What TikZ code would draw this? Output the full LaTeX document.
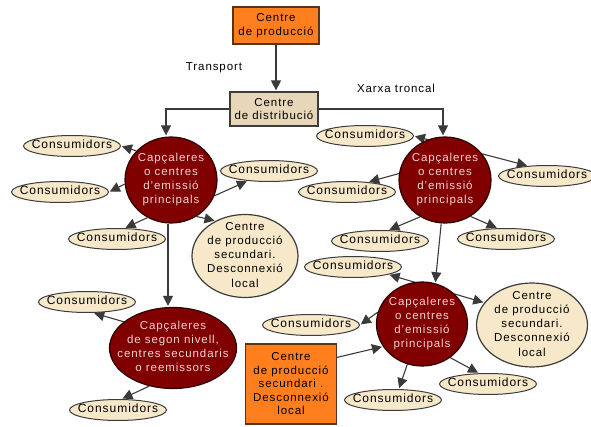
\documentclass[tikz,border=0pt]{standalone}
\usepackage{fontspec}
\setmainfont{Liberation Sans}[LetterSpace=8]
\usetikzlibrary{arrows.meta,shapes.geometric,backgrounds}

\definecolor{prodorange}{HTML}{FF7F1E}
\definecolor{prodedge}{HTML}{5A3418}
\definecolor{distfill}{HTML}{E8D6B8}
\definecolor{creamfill}{HTML}{F6E8C8}
\definecolor{creamedge}{HTML}{3C3C3C}
\definecolor{hubred}{HTML}{800000}
\definecolor{hubedge}{HTML}{2E0000}
\definecolor{hubtext}{HTML}{F2D4D4}
\definecolor{linkgray}{HTML}{3A3A3A}

% centred text that does not stretch the ellipse around it
\newcommand\inside[1]{\raisebox{-0.5em}{\smash{\makebox[0pt]{\begin{tabular}{@{}c@{}}#1\end{tabular}}}}}

\tikzset{
  box/.style={draw=prodedge, line width=1.2pt, rectangle, align=center,
    font=\fontsize{11.5}{13.5}\selectfont, inner sep=1pt},
  prodbox/.style={box, fill=prodorange},
  distbox/.style={box, fill=distfill, draw=creamedge},
  hub/.style={ellipse, fill=hubred, draw=hubedge, line width=1.2pt,
    text=hubtext, font=\fontsize{11.5}{14}\selectfont, inner sep=0pt},
  consumer/.style={ellipse, fill=creamfill, draw=creamedge, line width=1pt,
    minimum width=97pt, minimum height=21pt, inner sep=0pt,
    font=\fontsize{12}{13}\selectfont},
  secondary/.style={ellipse, fill=creamfill, draw=creamedge, line width=1.2pt,
    inner sep=0pt, font=\fontsize{11.5}{14.2}\selectfont},
  link/.style={draw=linkgray, line width=1.1pt,
    -{Triangle[length=10pt,width=10pt]}, shorten >=1pt},
  twoway/.style={link, {Triangle[length=10pt,width=10pt]}-{Triangle[length=10pt,width=10pt]},
    shorten <=1pt},
  tag/.style={font=\fontsize{11.5}{13}\selectfont}
}

\begin{document}
\begin{tikzpicture}[x=1pt, y=-1pt]
\useasboundingbox (0,0) rectangle (591,427);

% production and distribution
\node[prodbox, minimum width=86pt, minimum height=37pt] (prod) at (276,25.5) {Centre\\de producció};
\node[distbox, minimum width=88pt, minimum height=34pt] (dist) at (274,109) {Centre\\de distribució};
\node[tag] (transport) at (214,68) {Transport};
\node[tag] (troncal) at (396,88) {Xarxa troncal};

% main hubs
\node[hub, minimum width=92pt, minimum height=86pt] (hubA) at (171,180) {\inside{Capçaleres\\o centres\\d'emissió\\principals}};
\node[hub, minimum width=92pt, minimum height=86pt] (hubB) at (445,180) {\inside{Capçaleres\\o centres\\d'emissió\\principals}};
\node[hub, minimum width=91pt, minimum height=84pt] (hubC) at (422,324) {\inside{Capçaleres\\o centres\\d'emissió\\principals}};
\node[hub, minimum width=127pt, minimum height=81pt] (level2) at (173,348) {\inside{Capçaleres\\de segon nivell,\\centres secundaris\\o reemissors}};

% secondary production
\node[secondary, minimum width=106pt, minimum height=83pt] (secA) at (245,256) {\inside{Centre\\de producció\\secundari.\\Desconnexió\\local}};
\node[secondary, minimum width=111pt, minimum height=84pt] (secB) at (532,325) {\inside{Centre\\de producció\\secundari.\\Desconnexió\\local}};
\node[prodbox, minimum width=91pt, minimum height=80pt] (prod2) at (291,384) {Centre\\de producció\\secundari .\\Desconnexió\\local};

% consumers
\node[consumer] (k1) at (72,146) {\inside{Consumidors}};
\node[consumer] (k2) at (60,192) {\inside{Consumidors}};
\node[consumer] (k3) at (269,171) {\inside{Consumidors}};
\node[consumer] (k4) at (117,239) {\inside{Consumidors}};
\node[consumer] (k5) at (87,302) {\inside{Consumidors}};
\node[consumer] (k6) at (118,410) {\inside{Consumidors}};
\node[consumer] (k7) at (365,136) {\inside{Consumidors}};
\node[consumer] (k8) at (547,176) {\inside{Consumidors}};
\node[consumer] (k9) at (347,192) {\inside{Consumidors}};
\node[consumer] (k10) at (380,241) {\inside{Consumidors}};
\node[consumer] (k11) at (506,239) {\inside{Consumidors}};
\node[consumer] (k12) at (353,267) {\inside{Consumidors}};
\node[consumer] (k13) at (311,325) {\inside{Consumidors}};
\node[consumer] (k14) at (393,400) {\inside{Consumidors}};
\node[consumer] (k15) at (488,384) {\inside{Consumidors}};

\begin{scope}[on background layer]
  % trunk network
  \draw[link] (prod.south) -- (prod.south |- dist.north);
  \draw[link] (dist.west) -| ([xshift=-5pt]hubA.north);
  \draw[link] (dist.east) -| ([xshift=-2pt]hubB.north);

  % first hub
  \draw[link] (hubA.140) -- (k1.east);
  \draw[link] (hubA.185) -- (k2.east);
  \draw[link] (hubA.-20) -- (k3.205);
  \draw[link] (hubA.238) -- (k4.55);
  \draw[link] (hubA.-55) -- (secA.130);
  \draw[link] ([xshift=-3pt]hubA.south) -- ([xshift=-5pt]level2.north);

  % second-level hub
  \draw[link] (level2.152) -- (k5.-60);
  \draw[link] (level2.238) -- (k6.72);

  % second hub
  \draw[twoway] (k7.east) -- (k8.152);
  \draw[link] (hubB.172) -- (k9.25);
  \draw[link] (hubB.236) -- (k10.52);
  \draw[link] (hubB.-55) -- (k11.128);
  \draw[link] (hubB.265) -- (hubC.72);

  % third hub
  \draw[twoway] (k12.-12) -- (secB.155);
  \draw[link] (hubC.165) -- (k13.east);
  \draw[link] (prod2.30) -- (hubC.210);
  \draw[link] (hubC.250) -- (k14.62);
  \draw[link] (hubC.-50) -- (k15.130);
\end{scope}
\end{tikzpicture}
\end{document}
